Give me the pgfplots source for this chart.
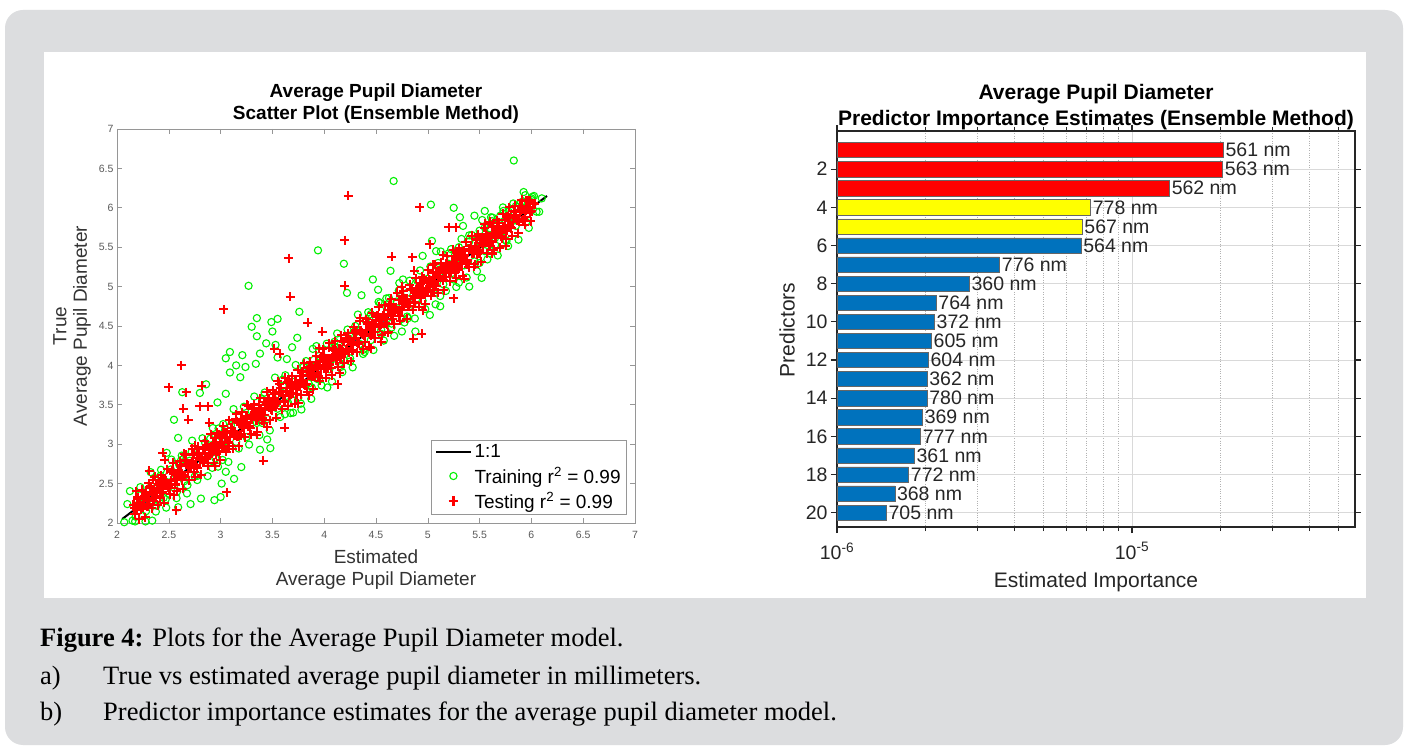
\documentclass[border=0pt]{standalone}
\usepackage{fontspec}
\setmainfont{Liberation Sans}
\newfontfamily\capfont{Liberation Serif}
\usepackage{pgfplots}
\pgfplotsset{compat=1.18}
\usepackage{pgfplotstable}

\definecolor{panelgrey}{RGB}{220,221,223}
\definecolor{mgreen}{RGB}{0,240,0}
\definecolor{mred}{RGB}{255,0,0}
\definecolor{myellow}{RGB}{255,255,0}
\definecolor{mblue}{RGB}{0,114,189}
\definecolor{axgrey}{RGB}{150,150,150}
\definecolor{lblgrey}{RGB}{90,90,90}

\newcommand{\fs}[1]{\fontsize{#1}{#1}\selectfont}

\pgfplotsset{
  legline/.style={legend image code/.code={\draw[black, line width=2.2pt] (-2pt,0pt) -- (33pt,0pt);}},
  legmark/.style={legend image code/.code={\draw[mark repeat=1,##1] plot coordinates {(15pt,0pt)};}},
  trainmark/.style={only marks, mark=o, mark size=3.6pt, mgreen, line width=1.1pt},
  testmark/.style={only marks, mark=+, mark size=4.5pt, mred, line width=2pt},
  testband/.style={only marks, mark=+, mark size=4.8pt, mred, line width=2.5pt},
}

% predictor importance, grouped by bar colour
\pgfplotstableread{
v p lab
2.04e-5 1 {561 nm}
2.03e-5 2 {563 nm}
1.34e-5 3 {562 nm}
}\redbars
\pgfplotstableread{
v p lab
7.24e-6 4 {778 nm}
6.78e-6 5 {567 nm}
}\yellowbars
\pgfplotstableread{
v p lab
6.72e-6 6 {564 nm}
3.56e-6 7 {776 nm}
2.81e-6 8 {360 nm}
2.17e-6 9 {764 nm}
2.14e-6 10 {372 nm}
2.09e-6 11 {605 nm}
2.04e-6 12 {604 nm}
2.02e-6 13 {362 nm}
2.02e-6 14 {780 nm}
1.95e-6 15 {369 nm}
1.92e-6 16 {777 nm}
1.83e-6 17 {361 nm}
1.75e-6 18 {772 nm}
1.57e-6 19 {368 nm}
1.47e-6 20 {705 nm}
}\bluebars

\begin{document}
\begin{tikzpicture}[x=1pt,y=1pt]
% page, grey frame and white figure panel
\fill[white] (0,0) rectangle (1407,752);
\fill[panelgrey, rounded corners=18pt] (5,7) rectangle (1403,742);
\fill[white] (44,154) rectangle (1366,700);

% ---------------- scatter plot ----------------
\begin{axis}[
  at={(117pt,229pt)}, anchor=south west,
  width=518pt, height=394pt, scale only axis,
  xmin=2, xmax=7, ymin=2, ymax=7,
  xtick={2,2.5,...,7}, ytick={2,2.5,...,7},
  tick align=inside, major tick length=5pt,
  axis line style={axgrey, line width=0.8pt},
  every tick/.style={axgrey, line width=0.6pt},
  /pgf/number format/assume math mode=true,
  ticklabel style={font=\fs{10.5}, text=lblgrey},
  xticklabel style={yshift=-5pt},
  legend style={at={(1,0)}, anchor=south east, xshift=-8pt, yshift=8pt,
    draw=axgrey, line width=0.8pt, font=\fs{19},
    inner xsep=4pt, inner ysep=3pt, row sep=4pt},
  legend cell align=left,
]
\addplot[black, line width=2pt, legline]
  coordinates {(2.05,2.05) (6.15,6.15)};
\addlegendentry{1:1}

% training set, along the 1:1 band
\addplot[trainmark, legmark]
  table {
x y
2.10 2.24
2.15 2.03
2.20 2.29
2.25 2.09
2.30 2.42
2.35 2.27
2.40 2.57
2.45 2.32
2.50 2.60
2.55 2.45
2.60 2.74
2.65 2.53
2.70 2.79
2.75 2.59
2.80 2.92
2.85 2.77
2.90 3.07
2.95 2.82
3.00 3.10
3.05 2.95
3.10 3.24
3.15 3.03
3.20 3.29
3.25 3.09
3.30 3.42
3.35 3.27
3.40 3.57
3.45 3.32
3.50 3.60
3.55 3.45
3.60 3.74
3.65 3.53
3.70 3.79
3.75 3.59
3.80 3.92
3.85 3.77
3.90 4.07
3.95 3.82
4.00 4.10
4.05 3.95
4.10 4.24
4.15 4.03
4.20 4.29
4.25 4.09
4.30 4.42
4.35 4.27
4.40 4.57
4.45 4.32
4.50 4.60
4.55 4.45
4.60 4.74
4.65 4.53
4.70 4.79
4.75 4.59
4.80 4.92
4.85 4.77
4.90 5.07
4.95 4.82
5.00 5.10
5.05 4.95
5.10 5.24
5.15 5.03
5.20 5.29
5.25 5.09
5.30 5.42
5.35 5.27
5.40 5.57
5.45 5.32
5.50 5.60
5.55 5.45
5.60 5.74
5.65 5.53
5.70 5.79
5.75 5.59
5.80 5.92
5.85 5.77
5.90 6.07
5.95 5.82
6.00 6.10
6.05 5.95
6.10 6.12
2.18 2.08
2.22 2.35
2.28 2.15
2.33 2.47
2.38 2.22
2.42 2.60
2.47 2.30
2.52 2.68
2.58 2.40
2.62 2.80
2.68 2.48
2.72 2.90
2.78 2.60
2.85 3.02
2.92 2.70
2.98 3.20
3.02 2.80
5.40 5.65
5.45 5.55
5.55 5.75
5.62 5.83
5.70 5.90
5.78 5.95
5.85 6.02
5.92 6.08
6.00 6.12
5.30 5.50
5.20 5.42
5.10 5.30
5.65 5.62
5.72 5.70
5.50 5.30
5.60 5.42
5.30 5.05
5.12 4.88
4.45 4.65
4.60 4.85
4.72 4.95
4.55 4.40
4.65 4.48
4.80 4.62
4.30 4.50
4.25 4.05
4.38 4.20
4.10 4.30
3.95 4.12
3.88 3.72
3.80 3.98
3.70 3.55
3.60 3.82
};
\addlegendentry{Training r\textsuperscript{2} = 0.99}

% training set, outer edge of the band
\addplot[trainmark, forget plot]
  table {
x y
2.125 2.405
2.175 2.020
2.225 2.455
2.275 2.020
2.325 2.645
2.375 2.145
2.425 2.675
2.475 2.195
2.525 2.805
2.575 2.315
2.625 2.855
2.675 2.375
2.725 3.045
2.775 2.545
2.825 3.075
2.875 2.595
2.925 3.205
2.975 2.715
3.025 3.255
3.075 2.775
3.125 3.445
3.175 2.945
3.225 3.475
3.275 2.995
3.325 3.605
3.375 3.115
3.425 3.655
3.475 3.175
3.525 3.845
3.575 3.345
3.625 3.875
3.675 3.395
3.725 4.005
3.775 3.515
3.825 4.055
3.875 3.575
3.925 4.245
3.975 3.745
4.025 4.275
4.075 3.795
4.125 4.405
4.175 3.915
4.225 4.455
4.275 3.975
4.325 4.645
4.375 4.145
4.425 4.675
4.475 4.195
4.525 4.805
4.575 4.315
4.625 4.855
4.675 4.375
4.725 5.045
4.775 4.545
4.825 5.075
4.875 4.595
4.925 5.205
4.975 4.715
5.025 5.255
5.075 4.775
5.125 5.445
5.175 4.945
5.225 5.475
5.275 4.995
5.325 5.605
5.375 5.115
5.425 5.655
5.475 5.195
5.525 5.845
5.575 5.345
5.625 5.875
5.675 5.395
5.725 6.005
5.775 5.515
5.825 6.055
5.875 5.595
5.925 6.200
5.975 5.745
6.025 6.150
6.075 5.950
};

% training set, points away from the band
\addplot[trainmark, forget plot]
  table {
x y
5.83 6.60
4.67 6.34
5.03 6.04
5.25 6.00
3.94 5.46
4.19 5.29
3.27 5.01
4.64 5.20
4.47 5.09
4.52 4.96
4.36 4.89
4.22 4.92
3.76 4.68
3.35 4.60
3.55 4.59
3.49 4.55
3.30 4.49
3.50 4.43
3.35 4.37
3.74 4.35
3.44 4.28
3.53 4.26
3.69 4.23
3.09 4.17
3.05 4.09
3.21 4.13
3.38 4.15
3.55 4.10
3.64 4.08
3.15 4.00
3.24 3.98
3.34 4.02
3.09 3.91
3.19 3.85
2.86 3.76
3.05 3.64
2.63 3.66
2.80 3.65
2.97 3.53
2.55 3.31
2.59 3.08
2.48 2.89
3.78 3.44
3.70 3.40
3.62 3.38
3.40 3.27
3.45 3.06
3.48 2.95
3.38 2.93
3.20 2.71
3.05 2.65
3.13 2.56
3.01 2.50
2.94 2.29
3.00 2.33
2.81 2.31
2.71 2.24
2.59 2.20
2.34 2.03
2.07 2.01
4.81 4.60
5.02 4.64
5.12 4.75
5.40 5.00
5.52 5.11
5.61 5.45
5.76 5.58
5.45 5.90
5.55 5.96
5.50 5.71
5.34 5.77
5.08 5.45
4.95 5.39
4.76 5.09
4.88 4.43
4.75 4.43
4.39 4.17
4.16 3.98
4.03 3.72
3.93 3.83
4.08 4.08
3.89 4.21
4.24 4.34
4.54 4.79
4.70 4.81
4.89 4.94
5.15 5.20
5.27 5.30
5.84 5.84
5.94 6.16
6.01 6.14
5.73 5.96
5.61 5.88
5.31 5.88
5.04 5.58
};

% testing set, along the 1:1 band
\addplot[testband, legmark]
  table {
x y
2.16 2.23
2.19 2.17
2.22 2.25
2.25 2.20
2.28 2.36
2.31 2.31
2.34 2.39
2.37 2.34
2.40 2.49
2.43 2.44
2.46 2.50
2.49 2.45
2.52 2.54
2.55 2.62
2.58 2.56
2.61 2.64
2.64 2.59
2.67 2.75
2.70 2.70
2.73 2.78
2.76 2.73
2.79 2.88
2.82 2.83
2.85 2.89
2.88 2.84
2.91 2.93
2.94 3.01
2.97 2.95
3.00 3.03
3.03 2.98
3.06 3.14
3.09 3.09
3.12 3.17
3.15 3.12
3.18 3.27
3.21 3.22
3.24 3.28
3.27 3.23
3.30 3.32
3.33 3.40
3.36 3.34
3.39 3.42
3.42 3.37
3.45 3.53
3.48 3.48
3.51 3.56
3.54 3.51
3.57 3.66
3.60 3.61
3.63 3.67
3.66 3.62
3.69 3.71
3.72 3.79
3.75 3.73
3.78 3.81
3.81 3.76
3.84 3.92
3.87 3.87
3.90 3.95
3.93 3.90
3.96 4.05
3.99 4.00
4.02 4.06
4.05 4.01
4.08 4.10
4.11 4.18
4.14 4.12
4.17 4.20
4.20 4.15
4.23 4.31
4.26 4.26
4.29 4.34
4.32 4.29
4.35 4.44
4.38 4.39
4.41 4.45
4.44 4.40
4.47 4.49
4.50 4.57
4.53 4.51
4.56 4.59
4.59 4.54
4.62 4.70
4.65 4.65
4.68 4.73
4.71 4.68
4.74 4.83
4.77 4.78
4.80 4.84
4.83 4.79
4.86 4.88
4.89 4.96
4.92 4.90
4.95 4.98
4.98 4.93
5.01 5.09
5.04 5.04
5.07 5.12
5.10 5.07
5.13 5.22
5.16 5.17
5.19 5.23
5.22 5.18
5.25 5.27
5.28 5.35
5.31 5.29
5.34 5.37
5.37 5.32
5.40 5.48
5.43 5.43
5.46 5.51
5.49 5.46
5.52 5.61
5.55 5.56
5.58 5.62
5.61 5.57
5.64 5.66
5.67 5.74
5.70 5.68
5.73 5.76
5.76 5.71
5.79 5.87
5.82 5.82
5.85 5.90
5.88 5.85
5.91 5.99
5.94 5.94
5.97 6.01
6.00 5.96
6.03 6.05
};
\addlegendentry{Testing r\textsuperscript{2} = 0.99}

% testing set, second pass along the band
\addplot[testband, forget plot]
  table {
x y
2.175 2.115
2.205 2.325
2.235 2.215
2.265 2.345
2.295 2.215
2.325 2.465
2.355 2.315
2.385 2.425
2.415 2.315
2.445 2.545
2.475 2.475
2.505 2.445
2.535 2.655
2.565 2.545
2.595 2.675
2.625 2.545
2.655 2.795
2.685 2.645
2.715 2.755
2.745 2.645
2.775 2.875
2.805 2.805
2.835 2.775
2.865 2.985
2.895 2.875
2.925 3.005
2.955 2.875
2.985 3.125
3.015 2.975
3.045 3.085
3.075 2.975
3.105 3.205
3.135 3.135
3.165 3.105
3.195 3.315
3.225 3.205
3.255 3.335
3.285 3.205
3.315 3.455
3.345 3.305
3.375 3.415
3.405 3.305
3.435 3.535
3.465 3.465
3.495 3.435
3.525 3.645
3.555 3.535
3.585 3.665
3.615 3.535
3.645 3.785
3.675 3.635
3.705 3.745
3.735 3.635
3.765 3.865
3.795 3.795
3.825 3.765
3.855 3.975
3.885 3.865
3.915 3.995
3.945 3.865
3.975 4.115
4.005 3.965
4.035 4.075
4.065 3.965
4.095 4.195
4.125 4.125
4.155 4.095
4.185 4.305
4.215 4.195
4.245 4.325
4.275 4.195
4.305 4.445
4.335 4.295
4.365 4.405
4.395 4.295
4.425 4.525
4.455 4.455
4.485 4.425
4.515 4.635
4.545 4.525
4.575 4.655
4.605 4.525
4.635 4.775
4.665 4.625
4.695 4.735
4.725 4.625
4.755 4.855
4.785 4.785
4.815 4.755
4.845 4.965
4.875 4.855
4.905 4.985
4.935 4.855
4.965 5.105
4.995 4.955
5.025 5.065
5.055 4.955
5.085 5.185
5.115 5.115
5.145 5.085
5.175 5.295
5.205 5.185
5.235 5.315
5.265 5.185
5.295 5.435
5.325 5.285
5.355 5.395
5.385 5.285
5.415 5.515
5.445 5.445
5.475 5.415
5.505 5.625
5.535 5.515
5.565 5.645
5.595 5.515
5.625 5.765
5.655 5.615
5.685 5.725
5.715 5.615
5.745 5.845
5.775 5.775
5.805 5.745
5.835 5.955
5.865 5.845
5.895 5.975
5.925 5.845
5.955 6.095
5.985 5.945
6.015 6.055
};

% testing set, third pass along the band
\addplot[testband, forget plot]
  table {
x y
2.17 2.19
2.20 2.31
2.23 2.18
2.26 2.32
2.29 2.28
2.32 2.45
2.35 2.28
2.38 2.40
2.41 2.52
2.44 2.39
2.47 2.53
2.50 2.49
2.53 2.66
2.56 2.49
2.59 2.61
2.62 2.73
2.65 2.60
2.68 2.74
2.71 2.70
2.74 2.87
2.77 2.70
2.80 2.82
2.83 2.94
2.86 2.81
2.89 2.95
2.92 2.91
2.95 3.08
2.98 2.91
3.01 3.03
3.04 3.15
3.07 3.02
3.10 3.16
3.13 3.12
3.16 3.29
3.19 3.12
3.22 3.24
3.25 3.36
3.28 3.23
3.31 3.37
3.34 3.33
3.37 3.50
3.40 3.33
3.43 3.45
3.46 3.57
3.49 3.44
3.52 3.58
3.55 3.54
3.58 3.71
3.61 3.54
3.64 3.66
3.67 3.78
3.70 3.65
3.73 3.79
3.76 3.75
3.79 3.92
3.82 3.75
3.85 3.87
3.88 3.99
3.91 3.86
3.94 4.00
3.97 3.96
4.00 4.13
4.03 3.96
4.06 4.08
4.09 4.20
4.12 4.07
4.15 4.21
4.18 4.17
4.21 4.34
4.24 4.17
4.27 4.29
4.30 4.41
4.33 4.28
4.36 4.42
4.39 4.38
4.42 4.55
4.45 4.38
4.48 4.50
4.51 4.62
4.54 4.49
4.57 4.63
4.60 4.59
4.63 4.76
4.66 4.59
4.69 4.71
4.72 4.83
4.75 4.70
4.78 4.84
4.81 4.80
4.84 4.97
4.87 4.80
4.90 4.92
4.93 5.04
4.96 4.91
4.99 5.05
5.02 5.01
5.05 5.18
5.08 5.01
5.11 5.13
5.14 5.25
5.17 5.12
5.20 5.26
5.23 5.22
5.26 5.39
5.29 5.22
5.32 5.34
5.35 5.46
5.38 5.33
5.41 5.47
5.44 5.43
5.47 5.60
5.50 5.43
5.53 5.55
5.56 5.67
5.59 5.54
5.62 5.68
5.65 5.64
5.68 5.81
5.71 5.64
5.74 5.76
5.77 5.88
5.80 5.75
5.83 5.89
5.86 5.85
5.89 6.02
5.92 5.85
5.95 5.97
5.98 6.09
};

% testing set, outer rows of the band
\addplot[testmark, forget plot]
  table {
x y
2.185 2.405
2.215 2.045
2.245 2.425
2.275 2.075
2.305 2.505
2.335 2.185
2.365 2.585
2.395 2.225
2.425 2.605
2.455 2.255
2.485 2.685
2.515 2.365
2.545 2.765
2.575 2.405
2.605 2.785
2.635 2.435
2.665 2.865
2.695 2.545
2.725 2.945
2.755 2.585
2.785 2.965
2.815 2.615
2.845 3.045
2.875 2.725
2.905 3.125
2.935 2.765
2.965 3.145
2.995 2.795
3.025 3.225
3.055 2.905
3.085 3.305
3.115 2.945
3.145 3.325
3.175 2.975
3.205 3.405
3.235 3.085
3.265 3.485
3.295 3.125
3.325 3.505
3.355 3.155
3.385 3.585
3.415 3.265
3.445 3.665
3.475 3.305
3.505 3.685
3.535 3.335
3.565 3.765
3.595 3.445
3.625 3.845
3.655 3.485
3.685 3.865
3.715 3.515
3.745 3.945
3.775 3.625
3.805 4.025
3.835 3.665
3.865 4.045
3.895 3.695
3.925 4.125
3.955 3.805
3.985 4.205
4.015 3.845
4.045 4.225
4.075 3.875
4.105 4.305
4.135 3.985
4.165 4.385
4.195 4.025
4.225 4.405
4.255 4.055
4.285 4.485
4.315 4.165
4.345 4.565
4.375 4.205
4.405 4.585
4.435 4.235
4.465 4.665
4.495 4.345
4.525 4.745
4.555 4.385
4.585 4.765
4.615 4.415
4.645 4.845
4.675 4.525
4.705 4.925
4.735 4.565
4.765 4.945
4.795 4.595
4.825 5.025
4.855 4.705
4.885 5.105
4.915 4.745
4.945 5.125
4.975 4.775
5.005 5.205
5.035 4.885
5.065 5.285
5.095 4.925
5.125 5.305
5.155 4.955
5.185 5.385
5.215 5.065
5.245 5.465
5.275 5.105
5.305 5.485
5.335 5.135
5.365 5.565
5.395 5.245
5.425 5.645
5.455 5.285
5.485 5.665
5.515 5.315
5.545 5.745
5.575 5.425
5.605 5.825
5.635 5.465
5.665 5.845
5.695 5.495
5.725 5.925
5.755 5.605
5.785 6.005
5.815 5.645
5.845 6.025
5.875 5.675
5.905 6.105
5.935 5.785
5.965 6.080
5.995 5.830
};

% testing set, points away from the band
\addplot[testmark, forget plot]
  table {
x y
4.23 6.15
4.92 6.01
4.20 5.59
3.66 5.36
4.65 5.38
4.85 5.37
4.20 5.01
3.67 4.87
3.03 4.71
3.84 4.54
3.98 4.43
3.52 4.21
3.57 4.15
2.62 4.00
2.50 3.72
2.67 3.66
2.82 3.74
2.64 3.45
2.80 3.48
2.88 3.48
2.69 3.31
2.89 3.27
2.31 2.66
2.57 2.16
3.06 2.39
3.41 2.79
3.62 3.21
4.13 3.76
4.94 4.40
4.86 4.34
5.25 4.85
5.20 5.75
5.27 5.75
5.88 5.82
5.94 5.88
2.29 2.24
2.46 2.80
2.44 2.89
4.87 5.20
5.02 5.54
2.35 2.55
2.55 2.35
2.75 2.98
2.95 2.72
3.15 3.38
3.35 3.12
3.55 3.80
3.75 3.52
3.95 4.22
4.15 3.90
4.35 4.60
4.55 4.30
4.75 5.00
4.95 4.70
5.15 5.40
5.35 5.10
5.55 5.80
5.75 5.52
4.05 4.28
4.45 4.22
3.25 3.50
2.65 2.88
3.85 3.62
5.05 5.28
5.45 5.25
4.62 4.42
5.62 5.42
3.45 3.22
};
\end{axis}

% scatter plot titles and axis labels
\node[font=\bfseries\fs{19}] at (376,659) {Average Pupil Diameter};
\node[font=\bfseries\fs{19}] at (376,637) {Scatter Plot (Ensemble Method)};
\node[font=\fs{19}, text=black!80] at (376,195) {Estimated};
\node[font=\fs{19}, text=black!80] at (376,171) {Average Pupil Diameter};
\node[font=\fs{19}, text=black!80, rotate=90] at (60,426) {True};
\node[font=\fs{19}, text=black!80, rotate=90] at (82,426) {Average Pupil Diameter};

% ---------------- predictor importance ----------------
\begin{axis}[
  at={(837pt,225pt)}, anchor=south west,
  width=518pt, height=396pt, scale only axis,
  xmode=log, xmin=1e-6, xmax=5.7e-5, log origin x=infty,
  ymin=0, ymax=20.75, y dir=reverse,
  ytick={2,4,...,20},
  xtick={1e-6,1e-5}, xticklabels={10\textsuperscript{-6},10\textsuperscript{-5}},
  minor xtick={2e-6,3e-6,4e-6,5e-6,6e-6,7e-6,8e-6,9e-6,2e-5,3e-5,4e-5,5e-5},
  xmajorgrids, xminorgrids, ymajorgrids,
  major grid style={black!15, line width=0.8pt},
  minor grid style={black!30, dotted, line width=0.8pt},
  tick align=outside, major tick length=6pt, minor tick length=4pt,
  axis line style={black!85, line width=1.8pt},
  every tick/.style={black!85, line width=1.2pt},
  /pgf/number format/assume math mode=true,
  ticklabel style={font=\fs{19.5}, text=black!85},
  xticklabel style={yshift=-6pt},
  xbar, bar width=0.8, bar shift=0pt,
  point meta=explicit symbolic,
  nodes near coords,
  every node near coord/.append style={anchor=west, font=\fs{19.5}, text=black!85, inner sep=2pt},
]
\addplot[fill=mred, draw=black!60, line width=0.5pt]
  table[x=v, y=p, meta=lab] {\redbars};
\addplot[fill=myellow, draw=black!60, line width=0.5pt]
  table[x=v, y=p, meta=lab] {\yellowbars};
\addplot[fill=mblue, draw=black!60, line width=0.5pt]
  table[x=v, y=p, meta=lab] {\bluebars};
\end{axis}

\node[font=\bfseries\fs{21}] at (1096,658) {Average Pupil Diameter};
\node[font=\bfseries\fs{21}] at (1096,632) {Predictor Importance Estimates (Ensemble Method)};
\node[font=\fs{21}, text=black!85] at (1096,170) {Estimated Importance};
\node[font=\fs{21}, text=black!85, rotate=90] at (787,422) {Predictors};

% ---------------- caption ----------------
\begin{scope}[every node/.style={anchor=base west, inner sep=0pt, font=\capfont\fs{26.5}}]
\node at (40,105) {\textbf{Figure 4:} Plots for the Average Pupil Diameter model.};
\node at (40,68) {a)};
\node at (103,68) {True vs estimated average pupil diameter in millimeters.};
\node at (40,32) {b)};
\node at (103,32) {Predictor importance estimates for the average pupil diameter model.};
\end{scope}
\end{tikzpicture}
\end{document}
